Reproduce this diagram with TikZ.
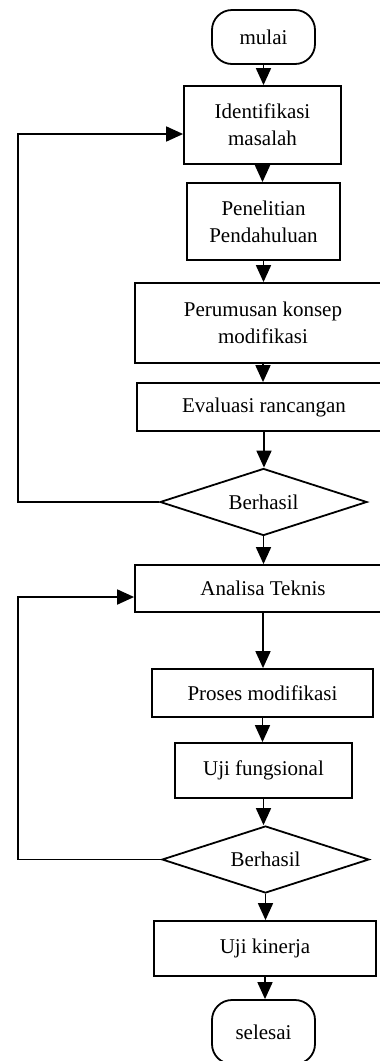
\documentclass[tikz,border=0pt]{standalone}
\usepackage{fontspec}
\setmainfont{Liberation Serif}
\usetikzlibrary{shapes.geometric,arrows.meta}
\begin{document}
\begin{tikzpicture}[x=1pt,y=-1pt,
  lw/.style={line width=1.8pt},
  box/.style={draw, lw, rectangle, align=center, inner sep=0pt,
    font=\fontsize{21}{27}\selectfont},
  term/.style={box, rounded corners=20pt},
  dec/.style={draw, lw, diamond, aspect=3.09, inner sep=0pt,
    minimum width=207pt, minimum height=67pt,
    font=\fontsize{21}{27}\selectfont},
  arr/.style={lw, -{Triangle[length=17pt,width=15pt]}}]
\useasboundingbox (0,0) rectangle (380,1061);

\node[term, minimum width=103pt, minimum height=54pt] (mulai) at (263.5,37) {mulai};
\node[box, minimum width=157pt, minimum height=78pt] (ident) at (262.5,125) {Identifikasi\\masalah};
\node[box, minimum width=153pt, minimum height=77pt] (penel) at (263.5,221.5) {Penelitian\\Pendahuluan};
\node[box, minimum width=256pt, minimum height=80pt] (perum) at (263,323) {Perumusan konsep\\modifikasi};
\node[box, minimum width=254pt, minimum height=48pt] (eval) at (264,407) {Evaluasi rancangan};
\node[dec] (dec1) at (263.5,502) {Berhasil};
\node[box, minimum width=256pt, minimum height=47pt] (anal) at (263,588.5) {Analisa Teknis};
\node[box, minimum width=221pt, minimum height=48pt] (proses) at (262.5,693) {Proses modifikasi};
\node[box, minimum width=177pt, minimum height=55pt] (ujif) at (263.5,770.5) {Uji fungsional};
\node[dec] (dec2) at (265.5,859.5) {Berhasil};
\node[box, minimum width=222pt, minimum height=55pt] (ujik) at (265,948.5) {Uji kinerja};
\node[term, minimum width=103pt, minimum height=64pt] (selesai) at (263.5,1032) {selesai};

\coordinate (l1) at (18,134);
\coordinate (l2) at (18,597);

\draw[arr] (mulai.south) -- (mulai.south |- ident.north);
\draw[arr] (ident.south) -- (ident.south |- penel.north);
\draw[arr] (penel.south) -- (penel.south |- perum.north);
\draw[arr] (perum.south) -- (perum.south |- eval.north);
\draw[arr] (eval.south) -- (eval.south |- dec1.north);
\draw[arr] (dec1.south) -- (dec1.south |- anal.north);
\draw[arr] (anal.south) -- (anal.south |- proses.north);
\draw[arr] (proses.south) -- (proses.south |- ujif.north);
\draw[arr] (ujif.south) -- (ujif.south |- dec2.north);
\draw[arr] (dec2.south) -- (dec2.south |- ujik.north);
\draw[arr] (ujik.south) -- (ujik.south |- selesai.north);

\draw[arr] (dec1.west) -| (l1) -- (l1 -| ident.west);
\draw[arr] (dec2.west) -| (l2) -- (l2 -| anal.west);
\end{tikzpicture}
\end{document}
